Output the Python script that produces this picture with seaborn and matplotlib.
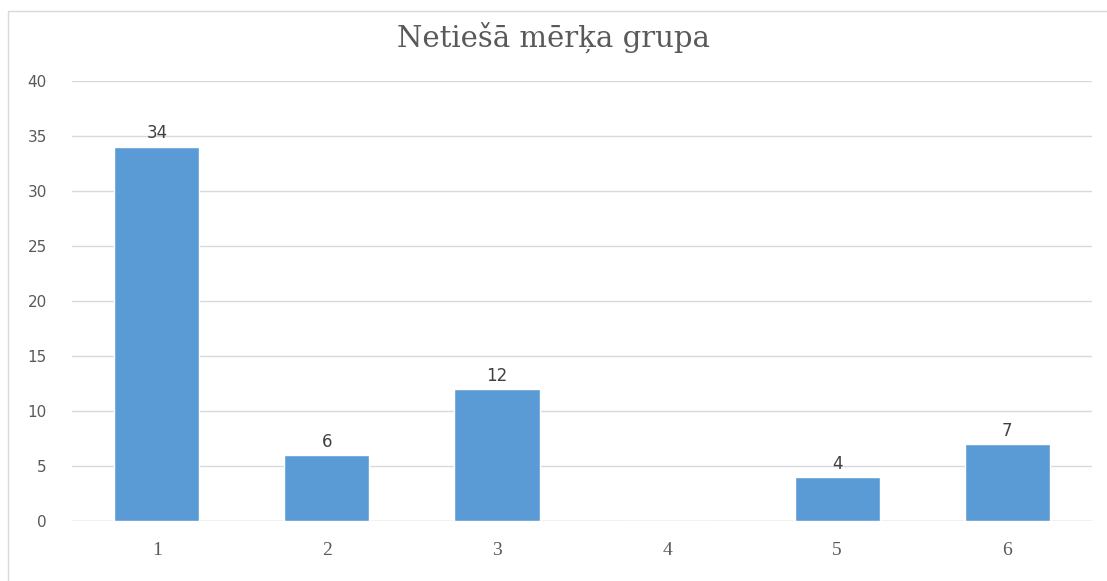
import matplotlib.pyplot as plt
import pandas as pd
import seaborn as sns

# Data
categories = ['1', '2', '3', '4', '5', '6']
values = [34, 6, 12, 0, 4, 7]
title = 'Netiešā mērķa grupa'

df = pd.DataFrame({'cat': categories, 'value': values})

sns.set_style('white')
plt.rcParams['font.family'] = ['DejaVu Sans']

fig = plt.figure(figsize=(11.07, 5.81), dpi=100)
ax = fig.add_axes([0.065, 0.103, 0.9215, 0.758])

sns.barplot(data=df, x='cat', y='value', color='#5b9bd5', saturation=1,
            width=0.5, ax=ax, zorder=3)

ax.set_ylim(0, 40)
ax.set_xlim(-0.5, 5.5)
ax.set_yticks(range(0, 41, 5))
ax.grid(axis='y', color='#d9d9d9', linewidth=1, zorder=0)
for s in ax.spines.values():
    s.set_visible(False)
ax.axhline(0, color='#d9d9d9', linewidth=1, zorder=2)
ax.set_xlabel('')
ax.set_ylabel('')
ax.tick_params(axis='both', length=0, colors='#595959', labelsize=11)
ax.tick_params(axis='y', pad=18)
ax.tick_params(axis='x', pad=15)
for lab in ax.get_xticklabels():
    lab.set_family('Liberation Serif')
    lab.set_fontsize(14)

# value labels, skip the empty category
for i, v in enumerate(values):
    if v > 0:
        ax.text(i, v + 0.4, str(v), ha='center', va='bottom',
                fontsize=12, color='#404040')

fig.text(0.5, 0.935, title, ha='center', va='center',
         family='DejaVu Serif', fontsize=21, color='#595959')

# thin frame like the original chart area
fig.add_artist(plt.Line2D([0.007, 0.007], [0.0, 0.981], color='#d9d9d9', lw=1))
fig.add_artist(plt.Line2D([0.007, 1.0], [0.981, 0.981], color='#d9d9d9', lw=1))

fig.savefig('out.png', dpi=100)
